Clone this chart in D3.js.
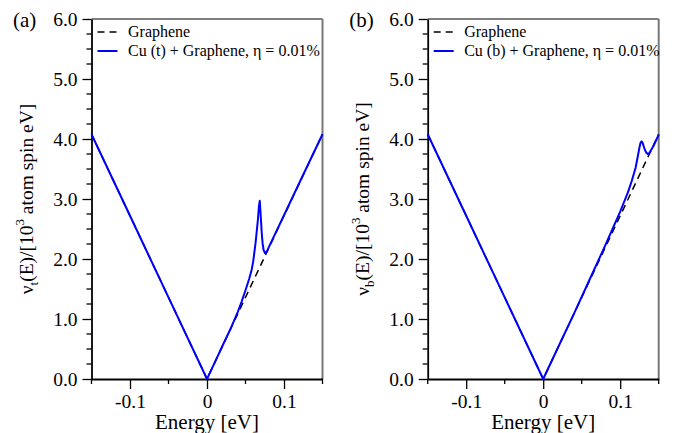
<!DOCTYPE html>
<html><head><meta charset="utf-8">
<script src="https://cdn.jsdelivr.net/npm/d3@7"></script>
<style>body{margin:0;background:#fff}svg{display:block}</style>
</head><body><svg id="c" width="676" height="433" font-family="Liberation Serif, DejaVu Serif, serif"></svg>
<script>
// ---- data ----
const panelLabels = ["(a)", "(b)"];
const yLabelSubs = ["t", "b"];
const legendCu = ["Cu (t) + Graphene, \u03b7 = 0.01%", "Cu (b) + Graphene, \u03b7 = 0.01%"];
const xTickValues = [-0.1, 0, 0.1];
const xTickLabels = ["-0.1", "0", "0.1"];
const yTickValues = [0, 1, 2, 3, 4, 5, 6];
const yTickLabels = ["0.0", "1.0", "2.0", "3.0", "4.0", "5.0", "6.0"];

const energyGraphene = [-0.15, 0, 0.15];
const dosGraphene = [4.08, 0, 4.08];

const energyCuT = [-0.15, -0.1, -0.05, 0, 0.01, 0.02, 0.03, 0.04, 0.045, 0.05, 0.055, 0.058, 0.06, 0.063, 0.066, 0.0675, 0.0685, 0.0695, 0.071, 0.0722, 0.0735, 0.0753, 0.078, 0.08, 0.09, 0.10, 0.12, 0.15];
const dosCuT =    [4.08, 2.72, 1.36, 0, 0.272, 0.55, 0.82, 1.12, 1.29, 1.48, 1.68, 1.82, 1.96, 2.26, 2.64, 2.88, 2.97, 2.78, 2.45, 2.26, 2.15, 2.10, 2.13, 2.19, 2.46, 2.73, 3.27, 4.08];

const energyCuB = [-0.15, -0.1, -0.05, 0, 0.02, 0.04, 0.06, 0.08, 0.09, 0.10, 0.105, 0.11, 0.115, 0.12, 0.123, 0.125, 0.1265, 0.1278, 0.129, 0.1305, 0.132, 0.134, 0.1358, 0.1375, 0.139, 0.143, 0.15];
const dosCuB =    [4.08, 2.72, 1.36, 0, 0.545, 1.09, 1.65, 2.21, 2.50, 2.79, 2.95, 3.11, 3.30, 3.52, 3.72, 3.86, 3.94, 3.96, 3.94, 3.88, 3.82, 3.77, 3.75, 3.76, 3.79, 3.88, 4.07];

const cuSeries = [[energyCuT, dosCuT], [energyCuB, dosCuB]];

// ---- drawing ----
const svg = d3.select("#c");
const FONT = "Liberation Serif, DejaVu Serif, serif";
const plotW = 231, plotH = 360, topY = 19;
const lefts = [91.5, 427.7];

const zip = (xs, ys) => xs.map((x, i) => [x, ys[i]]);

lefts.forEach((L, p) => {
  const g = svg.append("g").attr("transform", `translate(${L},${topY})`);
  const x = d3.scaleLinear().domain([-0.15, 0.15]).range([0, plotW]);
  const y = d3.scaleLinear().domain([0, 6]).range([plotH, 0]);

  // frame: top black, right gray
  g.append("line").attr("x1", 0).attr("x2", plotW).attr("y1", 0).attr("y2", 0).attr("stroke", "#000").attr("stroke-width", 1.2);
  g.append("line").attr("x1", plotW).attr("x2", plotW).attr("y1", 0).attr("y2", plotH).attr("stroke", "#777").attr("stroke-width", 2);

  // minor ticks
  const xMinor = d3.range(-0.15, 0.1501, 0.05).map(v => +v.toFixed(3)).filter(v => !xTickValues.some(t => Math.abs(t - v) < 1e-6));
  const yMinor = d3.range(0, 6.001, 0.25).map(v => +v.toFixed(3)).filter(v => !yTickValues.some(t => Math.abs(t - v) < 1e-6));
  g.selectAll(".xm").data(xMinor).enter().append("line")
    .attr("x1", d => x(d)).attr("x2", d => x(d)).attr("y1", plotH).attr("y2", plotH + 5)
    .attr("stroke", "#000").attr("stroke-width", 1.3);
  g.selectAll(".ym").data(yMinor).enter().append("line")
    .attr("x1", -5).attr("x2", 0).attr("y1", d => y(d)).attr("y2", d => y(d))
    .attr("stroke", "#000").attr("stroke-width", 1.3);

  const xAxis = d3.axisBottom(x).tickValues(xTickValues).tickFormat((d, i) => xTickLabels[i]).tickSize(10).tickPadding(5).tickSizeOuter(0);
  const gx = g.append("g").attr("transform", `translate(0,${plotH})`).call(xAxis);
  gx.attr("font-family", FONT).attr("font-size", 19.5);
  gx.select(".domain").attr("stroke-width", 1.8);
  gx.selectAll(".tick line").attr("stroke-width", 1.3);

  const yAxis = d3.axisLeft(y).tickValues(yTickValues).tickFormat((d, i) => yTickLabels[i]).tickSize(9).tickPadding(5).tickSizeOuter(0);
  const gy = g.append("g").call(yAxis);
  gy.attr("font-family", FONT).attr("font-size", 19.5);
  gy.select(".domain").attr("stroke-width", 1.8);
  gy.selectAll(".tick line").attr("stroke-width", 1.3);

  // lines
  const line = d3.line().x(d => x(d[0])).y(d => y(d[1]));
  g.append("path").attr("d", line(zip(energyGraphene, dosGraphene)))
    .attr("fill", "none").attr("stroke", "#000").attr("stroke-width", 1.5).attr("stroke-dasharray", "7,5");
  g.append("path").attr("d", line(zip(cuSeries[p][0], cuSeries[p][1])))
    .attr("fill", "none").attr("stroke", "#0000ff").attr("stroke-width", 2).attr("stroke-linejoin", "round");

  // legend
  g.append("line").attr("x1", 6).attr("x2", 26).attr("y1", 13).attr("y2", 13)
    .attr("stroke", "#000").attr("stroke-width", 1.5).attr("stroke-dasharray", "7,5");
  g.append("text").attr("x", 36.5).attr("y", 17.5).attr("font-size", 16).text("Graphene");
  g.append("line").attr("x1", 6).attr("x2", 26).attr("y1", 32).attr("y2", 32)
    .attr("stroke", "#0000ff").attr("stroke-width", 2);
  g.append("text").attr("x", 36.5).attr("y", 36.5).attr("font-size", 16).text(legendCu[p]);

  // x label
  g.append("text").attr("x", plotW / 2).attr("y", plotH + 50).attr("text-anchor", "middle").attr("font-size", 21).text("Energy [eV]");

  // y label
  const yl = svg.append("text").attr("font-size", 19.5).attr("text-anchor", "middle")
    .attr("transform", `translate(${L - 59},${topY + plotH / 2}) rotate(-90)`);
  yl.append("tspan").text("\u03bd");
  yl.append("tspan").attr("font-size", 13).attr("dy", 5).text(yLabelSubs[p]);
  yl.append("tspan").attr("dy", -5).text("(E)/[10");
  yl.append("tspan").attr("font-size", 13).attr("dy", -9).text("3");
  yl.append("tspan").attr("dy", 9).text(" atom spin eV]");

  // panel label
  svg.append("text").attr("x", L - 78.5).attr("y", topY + 8).attr("font-size", 21).text(panelLabels[p]);
});
</script></body></html>
